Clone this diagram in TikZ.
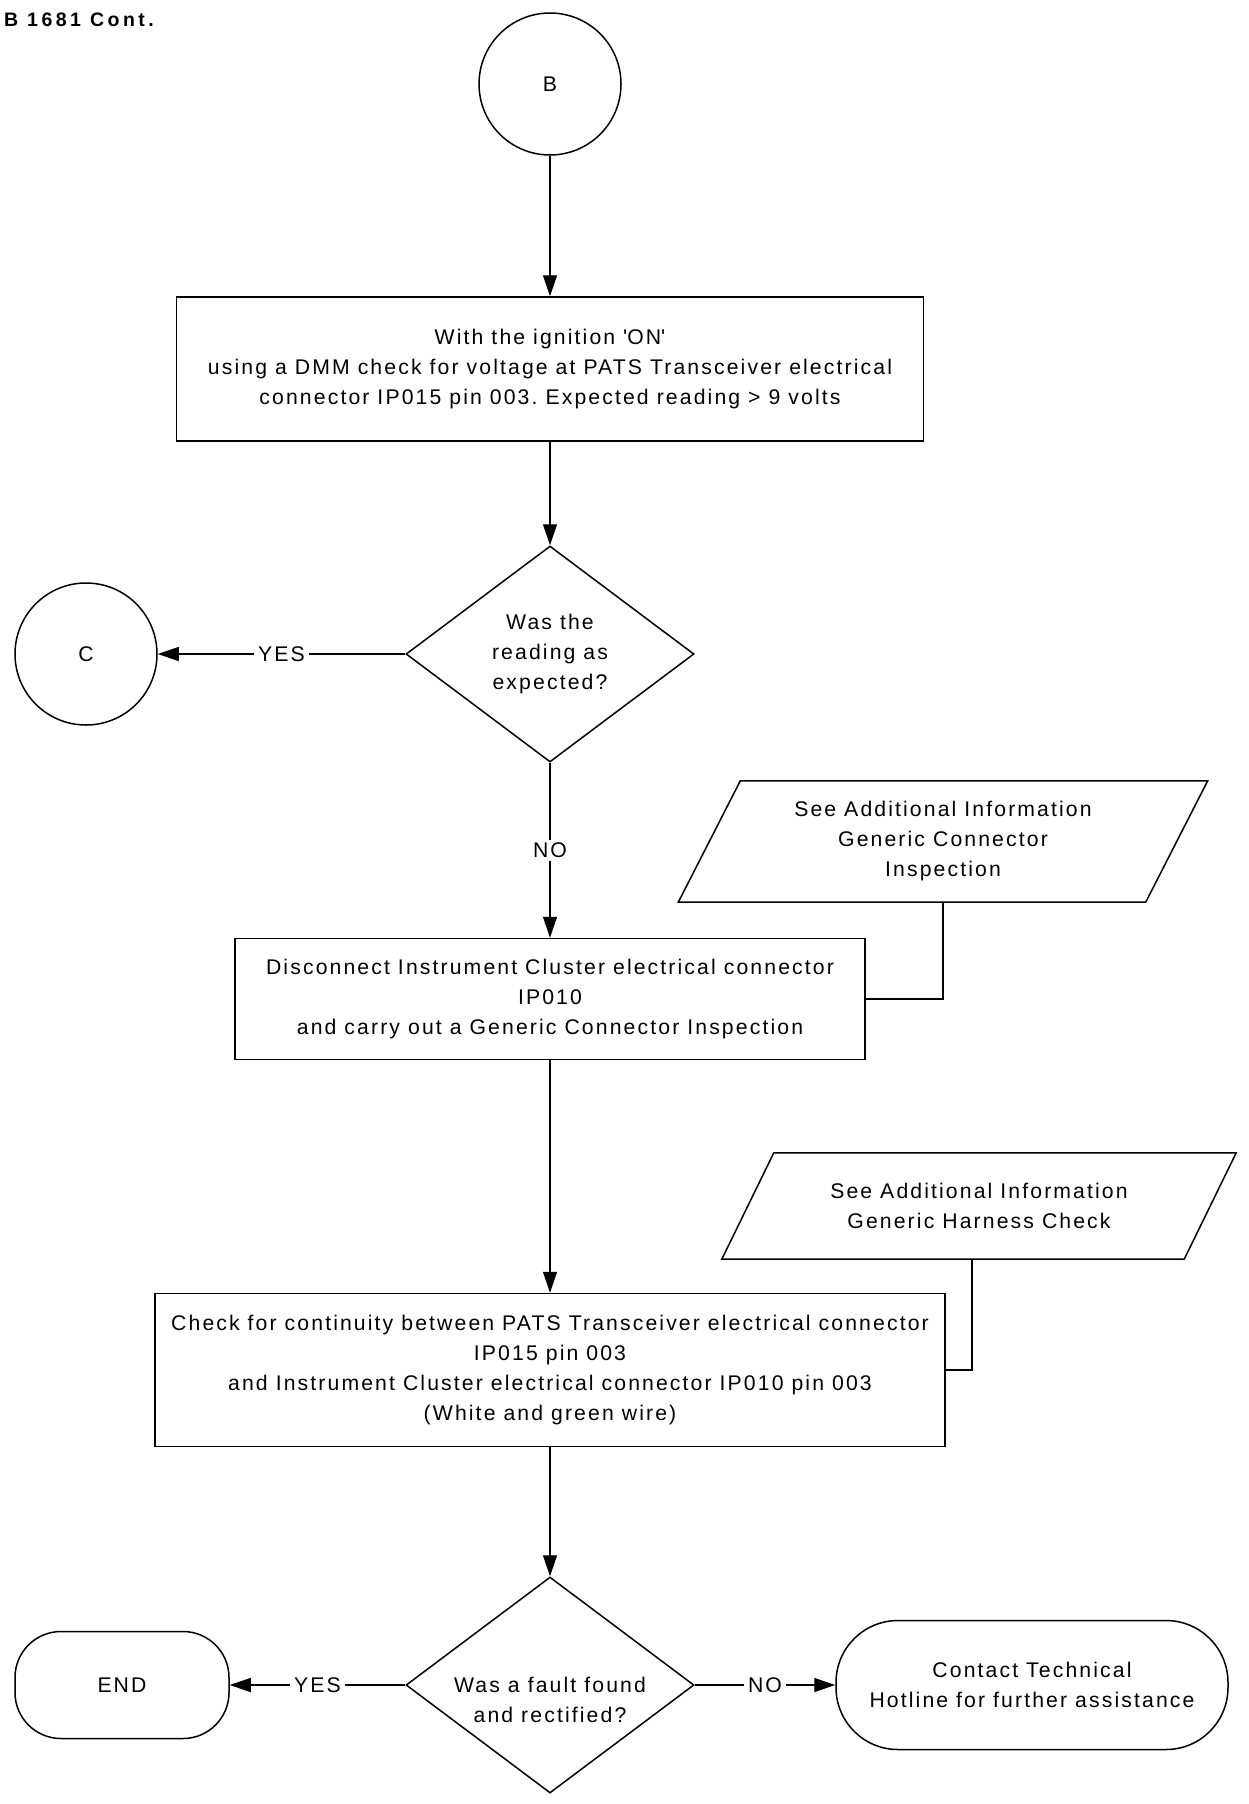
\documentclass[tikz,border=0pt]{standalone}
\usepackage{fontspec}
\setmainfont{Liberation Sans}[LetterSpace=10]
\newfontfamily\titlefont{Liberation Sans}[LetterSpace=18]
\usetikzlibrary{shapes.geometric,arrows.meta}
\frenchspacing
\begin{document}
\begin{tikzpicture}[x=1pt,y=-1pt,
  every node/.style={font=\fontsize{21.2pt}{30pt}\selectfont, align=center, inner sep=0pt},
  shapeline/.style={draw, line width=1.5pt},
  boxnode/.style={shapeline, rectangle},
  circnode/.style={shapeline, circle, minimum size=142pt},
  decision/.style={shapeline, diamond, minimum width=288pt, minimum height=216pt},
  terminal/.style={shapeline, rectangle},
  conn/.style={line width=1.3pt},
  arr/.style={conn, -{Triangle[length=21pt,width=14pt]}},
  lab/.style={fill=white, inner xsep=4pt, inner ysep=3pt}]
\useasboundingbox (0,0) rectangle (1248,1804);

\node[anchor=base west, font=\titlefont\bfseries\fontsize{19.5pt}{22pt}\selectfont] (title) at (4,26) {B 1681 Cont.};

\node[circnode] (B) at (550,84) {B};

\node[boxnode, minimum width=747pt, minimum height=144pt] (box1) at (550,369)
  {With the ignition \textquotesingle ON\textquotesingle\\using a DMM check for voltage at PATS Transceiver electrical\\connector IP015 pin 003. Expected reading > 9 volts};

\node[decision] (d1) at (550,654) {Was the\\reading as\\expected?};

\node[circnode] (C) at (86,654) {C};

\node[minimum width=467pt, minimum height=121pt] (p1) at (943,841.5)
  {See Additional Information\\Generic Connector\\Inspection};
\draw[shapeline] ([xshift=31pt]p1.north west) -- ([xshift=31pt]p1.north east)
  -- ([xshift=-31pt]p1.south east) -- ([xshift=-31pt]p1.south west) -- cycle;

\node[boxnode, minimum width=630pt, minimum height=121pt] (box2) at (550,999)
  {Disconnect Instrument Cluster electrical connector\\IP010\\and carry out a Generic Connector Inspection};

\node[minimum width=462pt, minimum height=106pt] (p2) at (979,1206)
  {See Additional Information\\Generic Harness Check};
\draw[shapeline] ([xshift=26pt]p2.north west) -- ([xshift=26pt]p2.north east)
  -- ([xshift=-26pt]p2.south east) -- ([xshift=-26pt]p2.south west) -- cycle;

\node[boxnode, minimum width=790pt, minimum height=153pt] (box3) at (550,1370)
  {Check for continuity between PATS Transceiver electrical connector\\IP015 pin 003\\and Instrument Cluster electrical connector IP010 pin 003\\(White and green wire)};

\node[decision] (d2) at (550,1685) {};
\node (d2t) at ([yshift=-15pt]d2.center) {Was a fault found\\and rectified?};

\node[terminal, rounded corners=46pt, minimum width=214pt, minimum height=107pt] (end) at (122,1685) {END};

\node[terminal, rounded corners=62pt, minimum width=392pt, minimum height=129pt] (contact) at (1032,1685)
  {Contact Technical\\Hotline for further assistance};

\draw[arr] (B.south) -- (box1.north);
\draw[arr] (box1.south) -- (d1.north);
\draw[arr] (d1.west) -- node[lab] (yes1) {YES} (C.east);
\draw[arr] (d1.south) -- node[lab] (no1) {NO} (box2.north);
\draw[conn] (p1.south) |- (box2.east);
\draw[arr] (box2.south) -- (box3.north);
\draw[conn] ([xshift=-7pt]p2.south) |- (box3.east);
\draw[arr] (box3.south) -- (d2.north);
\draw[arr] (d2.west) -- node[lab] (yes2) {YES} (end.east);
\draw[arr] (d2.east) -- node[lab] (no2) {NO} (contact.west);
\end{tikzpicture}
\end{document}
